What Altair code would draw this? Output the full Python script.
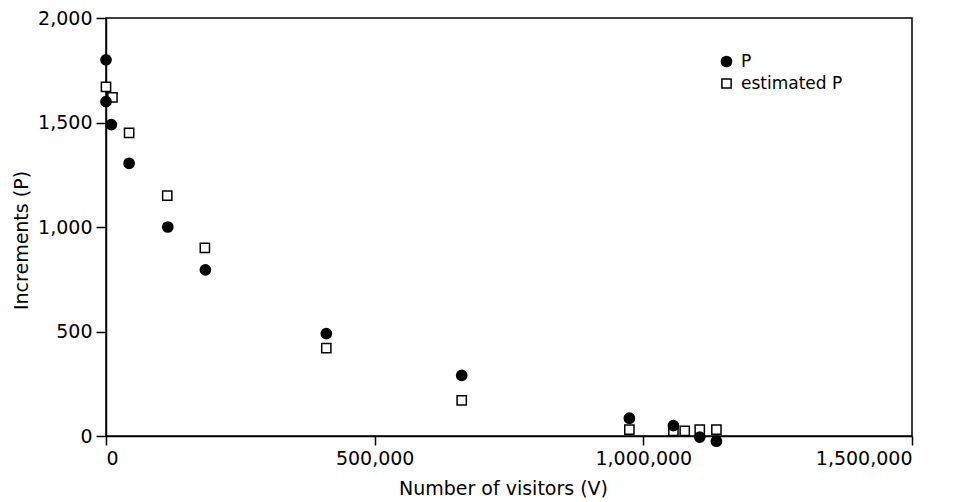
import altair as alt
import pandas as pd

# Observed increments P
visitors_p = [0, 0, 10000, 43000, 115000, 185000, 410000, 662000, 974000, 1056000, 1105000, 1136000]
p_values = [1800, 1600, 1490, 1305, 1000, 795, 490, 290, 85, 50, -5, -25]

# Estimated P
visitors_est = [0, 12000, 43000, 114000, 184000, 410000, 662000, 974000, 1056000, 1077000, 1105000, 1136000]
est_values = [1670, 1620, 1450, 1150, 900, 420, 170, 30, 25, 25, 30, 30]

series_names = ["P", "estimated P"]
x_ticks = [0, 500000, 1000000, 1500000]
y_ticks = [0, 500, 1000, 1500, 2000]

df = pd.concat([
    pd.DataFrame({"V": visitors_est, "value": est_values, "series": series_names[1]}),
    pd.DataFrame({"V": visitors_p, "value": p_values, "series": series_names[0]}),
], ignore_index=True)

leg = alt.Legend(title=None, orient="none", legendX=612, legendY=35,
                 padding=0, labelFontSize=17, labelOffset=6,
                 rowPadding=4, symbolStrokeWidth=1.5, labelColor="black")

chart = alt.Chart(df).mark_point(
    filled=True, strokeWidth=1.5, opacity=1
).encode(
    x=alt.X("V:Q",
            scale=alt.Scale(domain=[0, 1500000], nice=False, zero=False),
            axis=alt.Axis(values=x_ticks, format=",d", title="Number of visitors (V)",
                          tickSize=9, labelPadding=4, labelFontSize=19,
                          titleFontSize=19, titleX=397, titleY=58,
                          titleAlign="center", titleBaseline="alphabetic")),
    y=alt.Y("value:Q",
            scale=alt.Scale(domain=[0, 2000], nice=False, zero=False),
            axis=alt.Axis(values=y_ticks, format=",d", title="Increments (P)",
                          tickSize=10, labelPadding=4, labelFontSize=19,
                          titleFontSize=19, titleX=-79, titleY=222,
                          titleAlign="center", titleBaseline="alphabetic", titleAngle=270)),
    shape=alt.Shape("series:N",
                    scale=alt.Scale(domain=series_names, range=["circle", "square"]),
                    legend=leg),
    fill=alt.Fill("series:N",
                  scale=alt.Scale(domain=series_names, range=["black", "white"]),
                  legend=leg),
    stroke=alt.Stroke("series:N",
                      scale=alt.Scale(domain=series_names, range=["black", "black"]),
                      legend=leg),
    size=alt.Size("series:N",
                  scale=alt.Scale(domain=series_names, range=[105, 85]),
                  legend=leg),
).properties(
    width=806,
    height=418,
    autosize=alt.AutoSizeParams(type="none"),
    padding={"left": 98, "top": 10, "right": 50, "bottom": 68},
).configure(
    font="DejaVu Sans",
).configure_view(
    stroke="black", strokeWidth=1.5,
).configure_axis(
    grid=False, domainColor="black", domainWidth=1.5, tickColor="black", tickWidth=1.5,
    labelColor="black", titleColor="black", titleFontWeight="normal",
)

chart.save("out.html", embed_options={"renderer": "svg", "actions": False})
